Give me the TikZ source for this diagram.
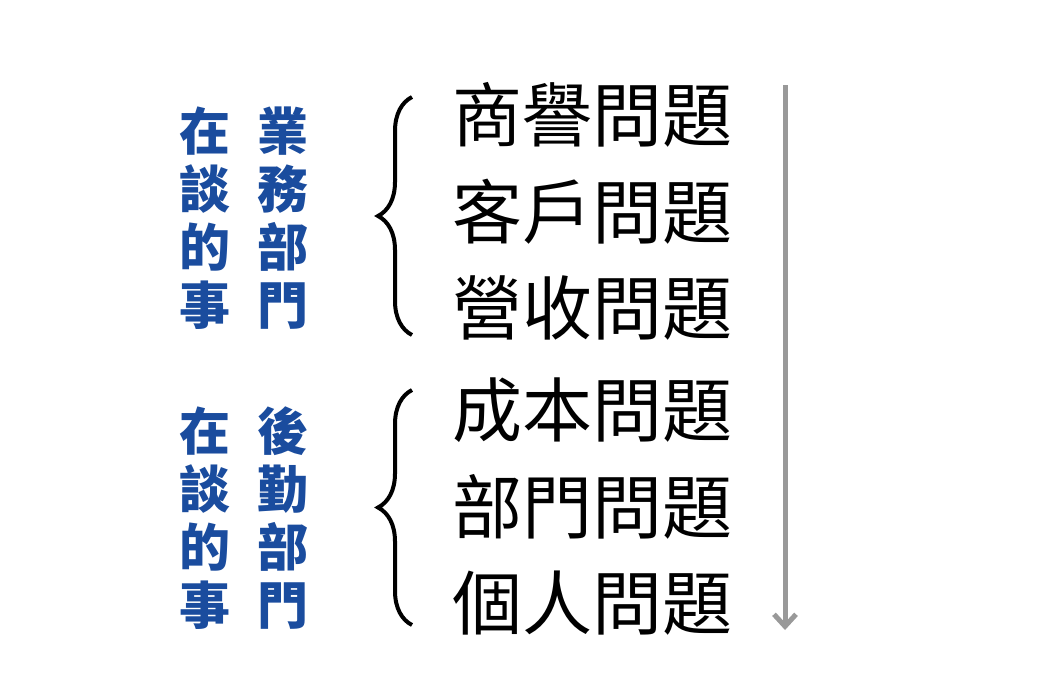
\documentclass[tikz,border=0pt]{standalone}
\usepackage{fontspec}
\newfontfamily\cjk{Noto Sans CJK TC}
\usetikzlibrary{decorations.pathreplacing,arrows.meta}
\definecolor{blu}{HTML}{1A4C9E}
\definecolor{arr}{HTML}{999999}
\tikzset{
 bl/.style={font=\cjk\bfseries\fontsize{51}{58}\selectfont, text=blu, align=center, inner sep=0},
 it/.style={font=\cjk\fontsize{70}{70}\selectfont, anchor=west, inner sep=0},
 br/.style={decorate, decoration={brace, amplitude=34pt, aspect=0.5}, line width=4pt}
}
\begin{document}
\begin{tikzpicture}[x=1pt,y=-1pt]
\useasboundingbox (0,0) rectangle (1051,685);
\node[bl] (a1) at (205,218) {在\\談\\的\\事};
\node[bl] (a2) at (283,218) {業\\務\\部\\門};
\node[bl] (b1) at (205,518) {在\\談\\的\\事};
\node[bl] (b2) at (283,518) {後\\勤\\部\\門};
\node[it] (t1) at (452,115) {商譽問題};
\node[it] (t2) at (452,212) {客戶問題};
\node[it] (t3) at (452,308) {營收問題};
\node[it] (t4) at (452,410) {成本問題};
\node[it] (t5) at (452,507) {部門問題};
\node[it] (t6) at (452,603) {個人問題};
\coordinate (p1) at (412,97); \coordinate (p2) at (412,335);
\coordinate (q1) at (412,390); \coordinate (q2) at (412,625);
\draw[br] (p2) -- (p1);
\draw[br] (q2) -- (q1);
\coordinate (s) at (785,85); \coordinate (e) at (785,630);
\draw[arr, line width=5pt, -{Straight Barb[length=12pt,width=22pt]}] (s) -- (e);
\end{tikzpicture}
\end{document}
